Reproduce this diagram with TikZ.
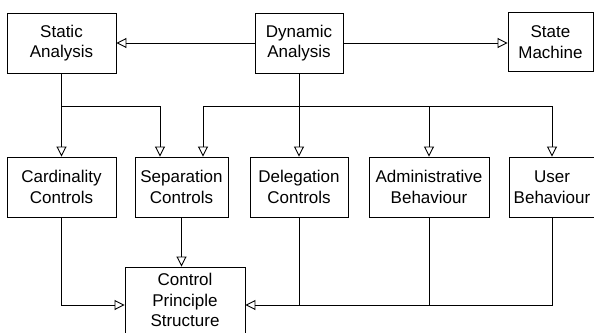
\documentclass[tikz,border=0pt]{standalone}
\usepackage{fontspec}
\setmainfont{Liberation Sans}
\usetikzlibrary{arrows.meta}
\begin{document}
\begin{tikzpicture}[x=1pt,y=-1pt,
  box/.style={draw,line width=0.9pt,inner sep=0pt,align=center,
    font=\fontsize{17}{20.5}\selectfont},
  arr/.style={line width=0.9pt,-{Triangle[open,length=10pt,width=10pt]}},
  ln/.style={line width=0.9pt}]
\useasboundingbox (0,0) rectangle (594,332);
\node[box,minimum width=109,minimum height=60] (stat) at (61.5,43) {Static\\Analysis};
\node[box,minimum width=88,minimum height=60] (dyn) at (299,43) {Dynamic\\Analysis};
\node[box,minimum width=85,minimum height=59] (state) at (550.5,42) {State\\Machine};
\node[box,minimum width=109,minimum height=60] (card) at (61.5,187) {Cardinality\\Controls};
\node[box,minimum width=93,minimum height=60] (sep) at (181.5,187) {Separation\\Controls};
\node[box,minimum width=98,minimum height=60] (del) at (299,187) {Delegation\\Controls};
\node[box,minimum width=120,minimum height=60] (adm) at (429,187) {Administrative\\Behaviour};
\node[box,minimum width=86,minimum height=60] (usr) at (552,187) {User\\Behaviour};
\node[box,minimum width=120,minimum height=66] (cps) at (185,300) {Control\\Principle\\Structure};
\coordinate (sb) at (61.5,106);
\coordinate (db) at (299,106);
\coordinate (bl) at (0,305);
% top row
\draw[arr] (dyn.west) -- (stat.east);
\draw[arr] (dyn.east) -- (dyn.east -| state.west);
% static branches
\draw[arr] (stat.south) -- (card.north);
\draw[arr] (sb) -| ([xshift=-21.5pt]sep.north);
% dynamic branches
\draw[arr] (dyn.south) -- (del.north);
\draw[arr] (db) -| ([xshift=21.5pt]sep.north);
\draw[arr] (db) -| (adm.north);
\draw[arr] (db) -| (usr.north);
% to control principle structure
\draw[arr] (sep.south) -- (sep.south |- cps.north);
\draw[arr] (card.south) |- (cps.west |- bl);
\draw[arr] (usr.south) |- (cps.east |- bl);
\draw[ln] (del.south) -- (del.south |- bl);
\draw[ln] (adm.south) -- (adm.south |- bl);
\end{tikzpicture}
\end{document}
